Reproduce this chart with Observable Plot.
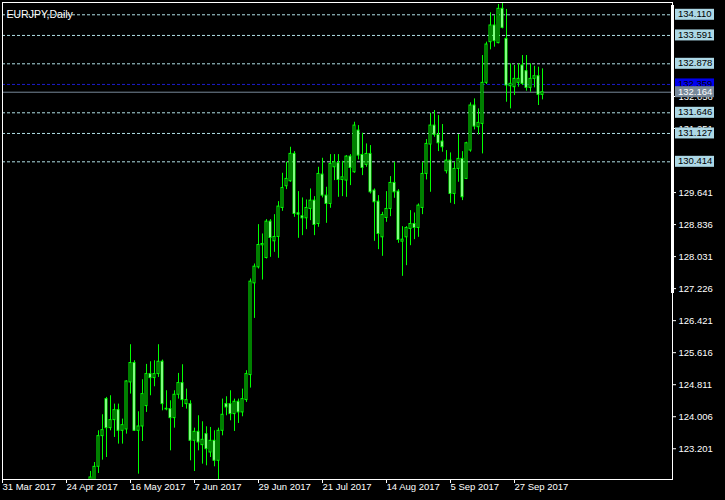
<!DOCTYPE html>
<html>
<head>
<meta charset="utf-8">
<script src="https://cdn.jsdelivr.net/npm/d3@7"></script>
<script src="https://cdn.jsdelivr.net/npm/@observablehq/plot@0.6"></script>
<style>
  html, body { margin: 0; padding: 0; background: #000; }
  #chart svg { display: block; }
</style>
</head>
<body>
<div id="chart"></div>
<script>
const title = "EURJPY,Daily";
const firstBar = 22; // bar index of first listed candle (bar 0 = 31 Mar 2017)
const opens = [122.20,122.35,122.747,123.518,124.449,123.719,123.921,124.172,123.652,123.686,
  124.868,125.355,123.652,123.761,124.273,125.078,124.977,125.078,125.388,124.189,
  124.197,123.971,124.558,124.852,124.323,124.323,123.401,123.627,123.292,123.568,
  123.107,123.401,122.898,123.652,124.323,124.323,124.072,124.382,124.114,124.424,
  125.053,127.359,127.761,128.315,127.996,128.910,128.416,128.525,129.254,129.799,
  129.925,130.613,129.120,129.044,128.994,129.229,129.438,128.851,130.093,129.564,
  129.355,130.277,130.378,129.958,129.942,130.545,130.151,131.199,130.587,130.336,
  130.612,129.690,129.413,128.516,129.002,129.229,129.883,129.665,128.407,128.516,
  128.726,128.851,128.751,129.254,130.109,130.848,131.325,131.091,130.923,130.177,
  130.445,129.606,130.235,130.487,129.984,130.697,131.829,131.284,131.367,132.399,
  133.422,133.841,133.397,134.260,133.506,132.315,132.290,132.399,132.835,132.692,
  132.273,132.499,132.566,132.097];
const highs = [122.63,122.855,123.652,124.055,124.491,124.533,124.323,124.323,123.946,124.910,
  125.816,125.413,124.130,124.935,125.321,125.388,125.413,125.816,125.430,124.659,
  124.407,124.659,125.095,125.313,124.700,124.407,123.719,124.030,123.879,123.753,
  123.736,123.652,123.719,124.449,124.508,124.659,124.449,124.449,124.700,125.162,
  127.468,127.845,128.835,128.600,128.961,128.961,129.086,129.413,130.126,130.403,
  130.780,130.671,129.665,129.506,129.455,129.732,129.539,130.277,130.503,129.774,
  130.596,130.596,130.596,130.428,130.570,130.596,131.409,131.325,131.132,130.864,
  130.822,129.732,129.564,129.145,129.665,130.042,130.403,129.715,128.784,128.784,
  129.187,129.128,129.355,130.403,130.973,131.636,131.703,131.577,131.351,130.697,
  130.638,130.403,131.099,130.671,130.906,131.896,131.996,131.745,133.086,133.422,
  134.160,134.093,134.369,134.403,134.244,132.877,132.835,132.877,133.086,133.086,
  132.877,132.818,132.793,132.751];
const lows = [121.90,122.20,122.579,122.914,122.981,123.652,123.485,123.317,123.317,123.568,
  124.575,123.636,122.562,123.384,124.114,124.533,124.759,124.994,124.155,124.155,
  123.149,123.719,124.449,124.239,124.197,122.898,122.629,123.149,122.814,122.772,
  122.981,122.747,122.300,123.526,124.030,123.904,123.636,123.837,124.005,124.365,
  124.726,126.478,127.720,127.443,127.971,128.013,128.139,127.988,129.170,129.715,
  129.900,129.019,128.491,128.558,128.709,128.935,128.558,128.768,129.506,128.868,
  129.246,129.942,129.522,129.539,129.522,129.816,130.126,130.461,130.067,130.277,
  129.606,128.415,128.206,128.038,128.893,129.036,129.497,128.365,127.535,127.803,
  128.306,128.457,128.516,129.086,129.958,129.648,131.032,130.671,130.655,130.110,
  129.372,129.338,129.900,129.439,129.967,130.655,131.216,131.091,130.613,132.357,
  133.229,133.296,133.380,133.757,131.912,131.745,132.080,132.290,132.332,132.189,
  132.164,132.273,131.829,131.971];
const closes = [122.48,122.746,123.518,123.669,123.719,123.921,124.172,123.652,123.795,124.893,
  125.355,123.652,123.761,124.575,125.078,124.977,125.078,125.388,124.323,124.206,
  123.971,124.558,124.852,124.424,124.424,123.401,123.627,123.359,123.426,123.191,
  123.401,122.898,123.652,124.055,124.239,124.072,124.382,124.114,124.449,125.078,
  127.401,127.778,128.323,128.348,128.910,128.499,128.525,129.288,129.757,129.984,
  130.613,129.103,129.086,128.994,129.254,129.438,128.826,130.109,129.564,129.355,
  130.361,130.403,129.958,130.025,130.545,130.260,131.325,130.570,130.260,130.612,
  129.648,129.397,128.600,129.078,129.229,129.883,129.648,128.449,128.457,128.751,
  128.851,128.751,129.313,130.109,130.864,131.325,131.091,130.881,130.780,130.445,
  129.606,130.235,130.487,129.523,130.881,131.829,131.300,131.393,132.399,133.363,
  133.841,133.447,134.260,133.782,132.332,132.374,132.499,132.499,132.374,132.273,
  132.499,132.566,132.097,132.164];

const tickBars = [0, 16, 32, 48, 64, 80, 96, 112, 128];
const tickLabels = ["31 Mar 2017","24 Apr 2017","16 May 2017","7 Jun 2017","29 Jun 2017",
  "21 Jul 2017","14 Aug 2017","5 Sep 2017","27 Sep 2017"];
const priceTicks = [123.201,124.006,124.811,125.616,126.421,127.226,128.031,128.836,129.641,
  131.251,132.056];
const levels = [134.110, 133.591, 132.878, 131.646, 131.127, 130.414];
const askLevel = 132.359;
const bidLevel = 132.164;

const candles = opens.map((o, k) => ({i: firstBar + k, o, h: highs[k], l: lows[k], c: closes[k]}));

const FONT = "Liberation Sans, Arial, sans-serif";

const chart = Plot.plot({
  width: 725,
  height: 500,
  marginLeft: 2,
  marginRight: 53,
  marginTop: 2,
  marginBottom: 21,
  style: {background: "#000", color: "#fff", fontFamily: FONT, fontSize: "9.5px"},
  color: {type: "identity"},
  x: {domain: [0, 167.5], ticks: tickBars, tickFormat: () => "", tickSize: 4, label: null},
  y: {axis: "right", domain: [122.428, 134.419], ticks: priceTicks, tickFormat: d => d.toFixed(3),
      tickSize: 3, tickPadding: 3, label: null},
  marks: [
    Plot.ruleY(levels, {stroke: "#b0e0e6", strokeDasharray: "3,2"}),
    Plot.ruleY([askLevel], {stroke: "#1c1cc8", strokeDasharray: "3,2"}),
    Plot.ruleY([bidLevel], {stroke: "#778899"}),
    Plot.ruleX(candles, {x: "i", y1: "l", y2: "h", stroke: "#00ff00", clip: true}),
    Plot.rect(candles, {x1: d => d.i - 0.25, x2: d => d.i + 0.25, y1: "o", y2: "c",
      fill: d => d.c >= d.o ? "#000" : "#fff", stroke: "#00ff00", clip: true}),
    Plot.frame({stroke: "#fff"}),
    Plot.text(tickBars, {x: d => d, text: (d, k) => tickLabels[k], frameAnchor: "bottom",
      dy: 10, textAnchor: "start", fill: "#fff", fontSize: 9.5}),
    Plot.text([title], {frameAnchor: "top-left", dx: 4, dy: 8, textAnchor: "start", fill: "#fff", fontSize: 10.5})
  ]
});

document.getElementById("chart").appendChild(chart);

// price-level labels on the right axis
const svg = d3.select(chart);
const ys = chart.scale("y");
const xs = chart.scale("x");
const xr = xs.range[1];
const yr = ys.range;
// thick axis segment
svg.append("rect").attr("x", xr - 1).attr("y", Math.min(...yr) + 3).attr("width", 3)
  .attr("height", 288).attr("fill", "#fff");

function label(v, bg, fg) {
  const y = ys.apply(v);
  svg.append("rect").attr("x", xr + 3).attr("y", y - 5.5).attr("width", 39).attr("height", 11)
    .attr("fill", bg);
  svg.append("text").attr("x", xr + 6).attr("y", y).attr("dy", "0.32em")
    .attr("text-anchor", "start")
    .attr("fill", fg).attr("font-family", FONT)
    .attr("font-size", "9.5px").text(v.toFixed(3));
}
levels.forEach(v => label(v, "#add8e6", "#000"));
label(askLevel, "#0000f0", "#000");
label(bidLevel, "#778899", "#fff");
</script>
</body>
</html>
